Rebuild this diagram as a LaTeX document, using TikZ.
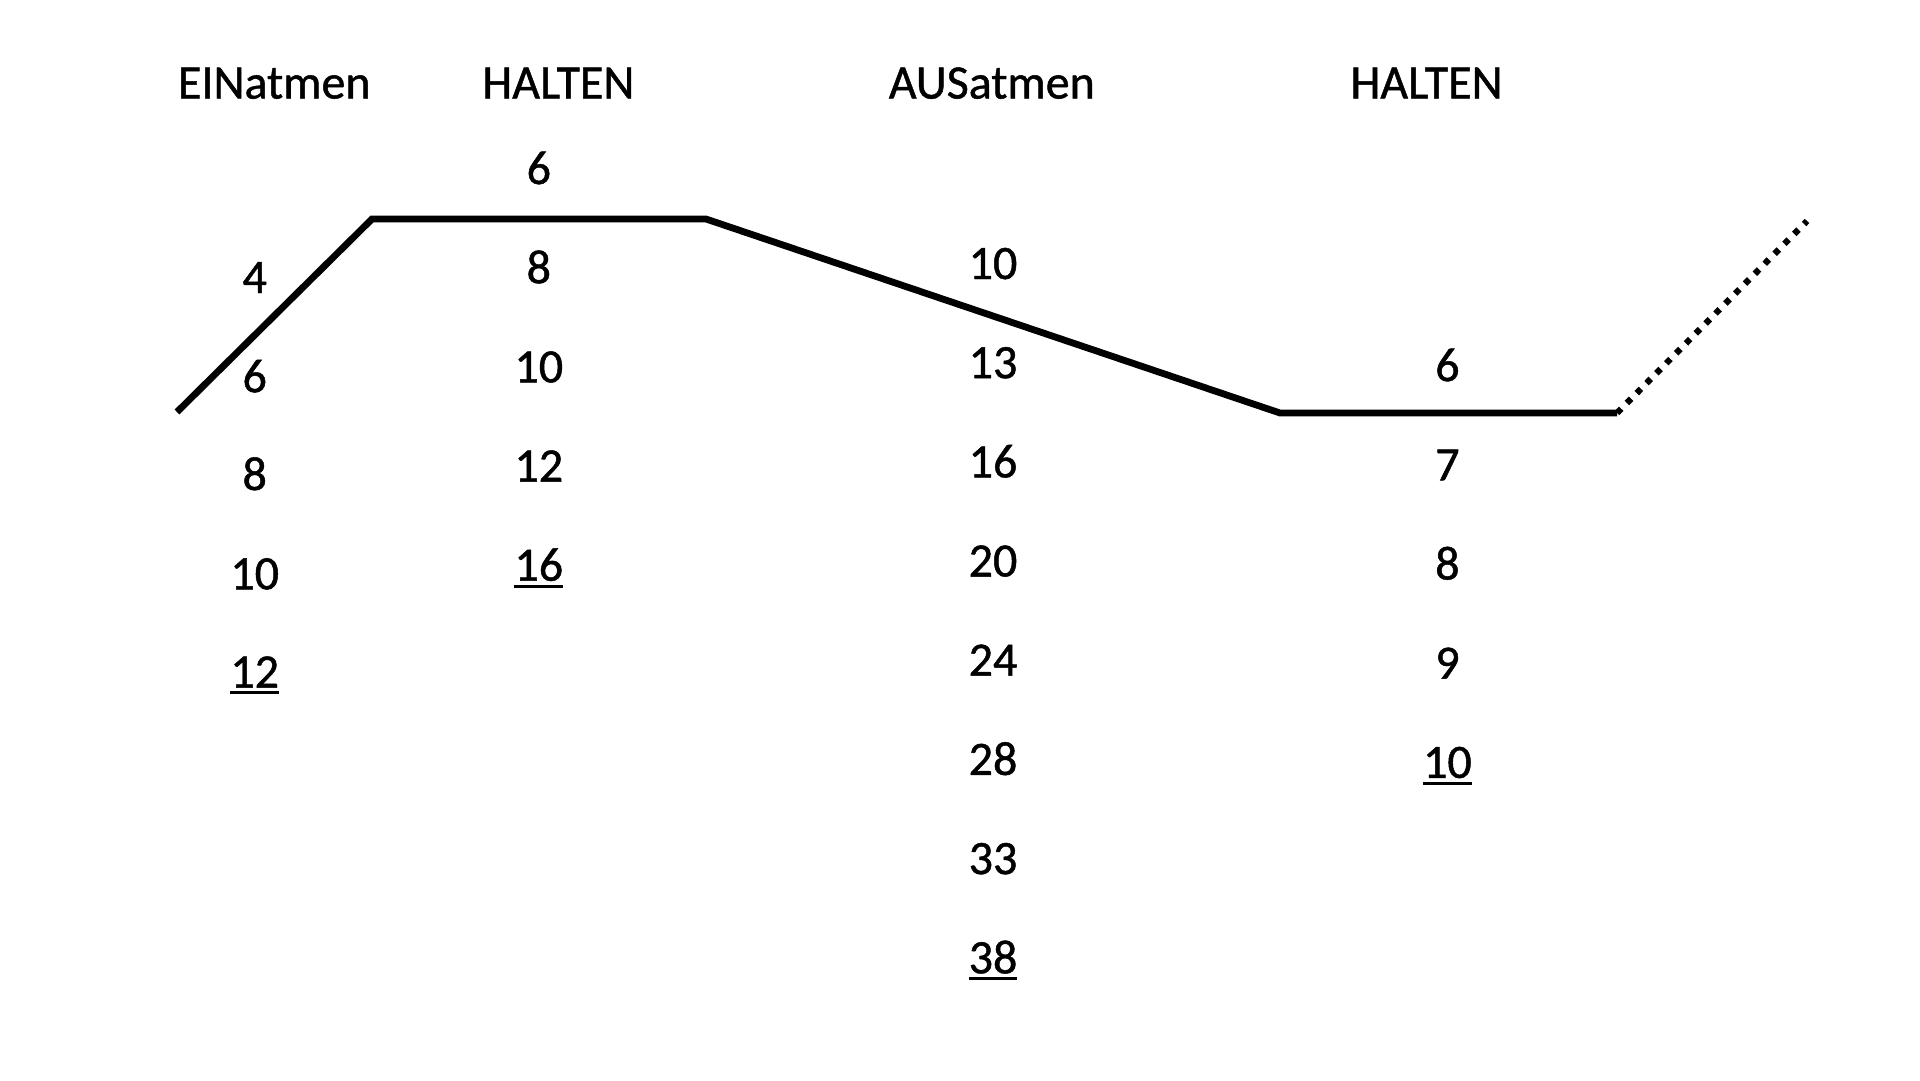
\documentclass[tikz,border=0pt]{standalone}
\usepackage{fontspec}
\setmainfont{Carlito}[FakeBold=1]
\newcommand\ulnum[1]{\vtop{\hbox{#1}\kern3.5pt\hrule height 3.3pt}}
\begin{document}
\begin{tikzpicture}[x=1pt,y=-1pt,
  lbl/.style={anchor=base,inner sep=0pt,font=\fontsize{48}{56}\selectfont},
  curve/.style={line width=6.8pt,line join=miter,black},
  dotline/.style={line width=6.3pt,dash pattern=on 6pt off 8pt,black}]
\useasboundingbox (0,0) rectangle (1920,1080);
% headers
\node[lbl] (h1) at (274.3,98.5) {EINatmen};
\node[lbl] (h2) at (558.4,98.5) {HALTEN};
\node[lbl] (h3) at (991.8,98.5) {AUSatmen};
\node[lbl] (h4) at (1426.5,98.5) {HALTEN};
% column 1
\node[lbl] (a1) at (254.7,293) {4};
\node[lbl] (a2) at (254.7,392.2) {6};
\node[lbl] (a3) at (254.7,490) {8};
\node[lbl] (a4) at (254.7,589.3) {10};
\node[lbl] (a5) at (254.7,687.5) {\ulnum{12}};
% column 2
\node[lbl] (b1) at (538.8,184) {6};
\node[lbl] (b2) at (538.8,283.2) {8};
\node[lbl] (b3) at (538.8,382.4) {10};
\node[lbl] (b4) at (538.8,481.5) {12};
\node[lbl] (b5) at (538.8,580.7) {\ulnum{16}};
% column 3
\node[lbl] (c1) at (993,279) {10};
\node[lbl] (c2) at (993,378.2) {13};
\node[lbl] (c3) at (993,477.4) {16};
\node[lbl] (c4) at (993,576.5) {20};
\node[lbl] (c5) at (993,675.7) {24};
\node[lbl] (c6) at (993,774.9) {28};
\node[lbl] (c7) at (993,874.1) {33};
\node[lbl] (c8) at (993,973.3) {\ulnum{38}};
% column 4
\node[lbl] (d1) at (1447.4,381.1) {6};
\node[lbl] (d2) at (1447.4,480.3) {7};
\node[lbl] (d3) at (1447.4,579.5) {8};
\node[lbl] (d4) at (1447.4,678.7) {9};
\node[lbl] (d5) at (1447.4,777.9) {\ulnum{10}};
% breathing curve
\coordinate (p0) at (177,412);
\coordinate (p1) at (372,219);
\coordinate (p2) at (706,219);
\coordinate (p3) at (1280,413);
\coordinate (p4) at (1617,413);
\coordinate (p5) at (1807,221);
\draw[curve] (p0) -- (p1) -- (p2) -- (p3) -- (p4);
\draw[dotline] (p4) -- (p5);
\end{tikzpicture}
\end{document}
